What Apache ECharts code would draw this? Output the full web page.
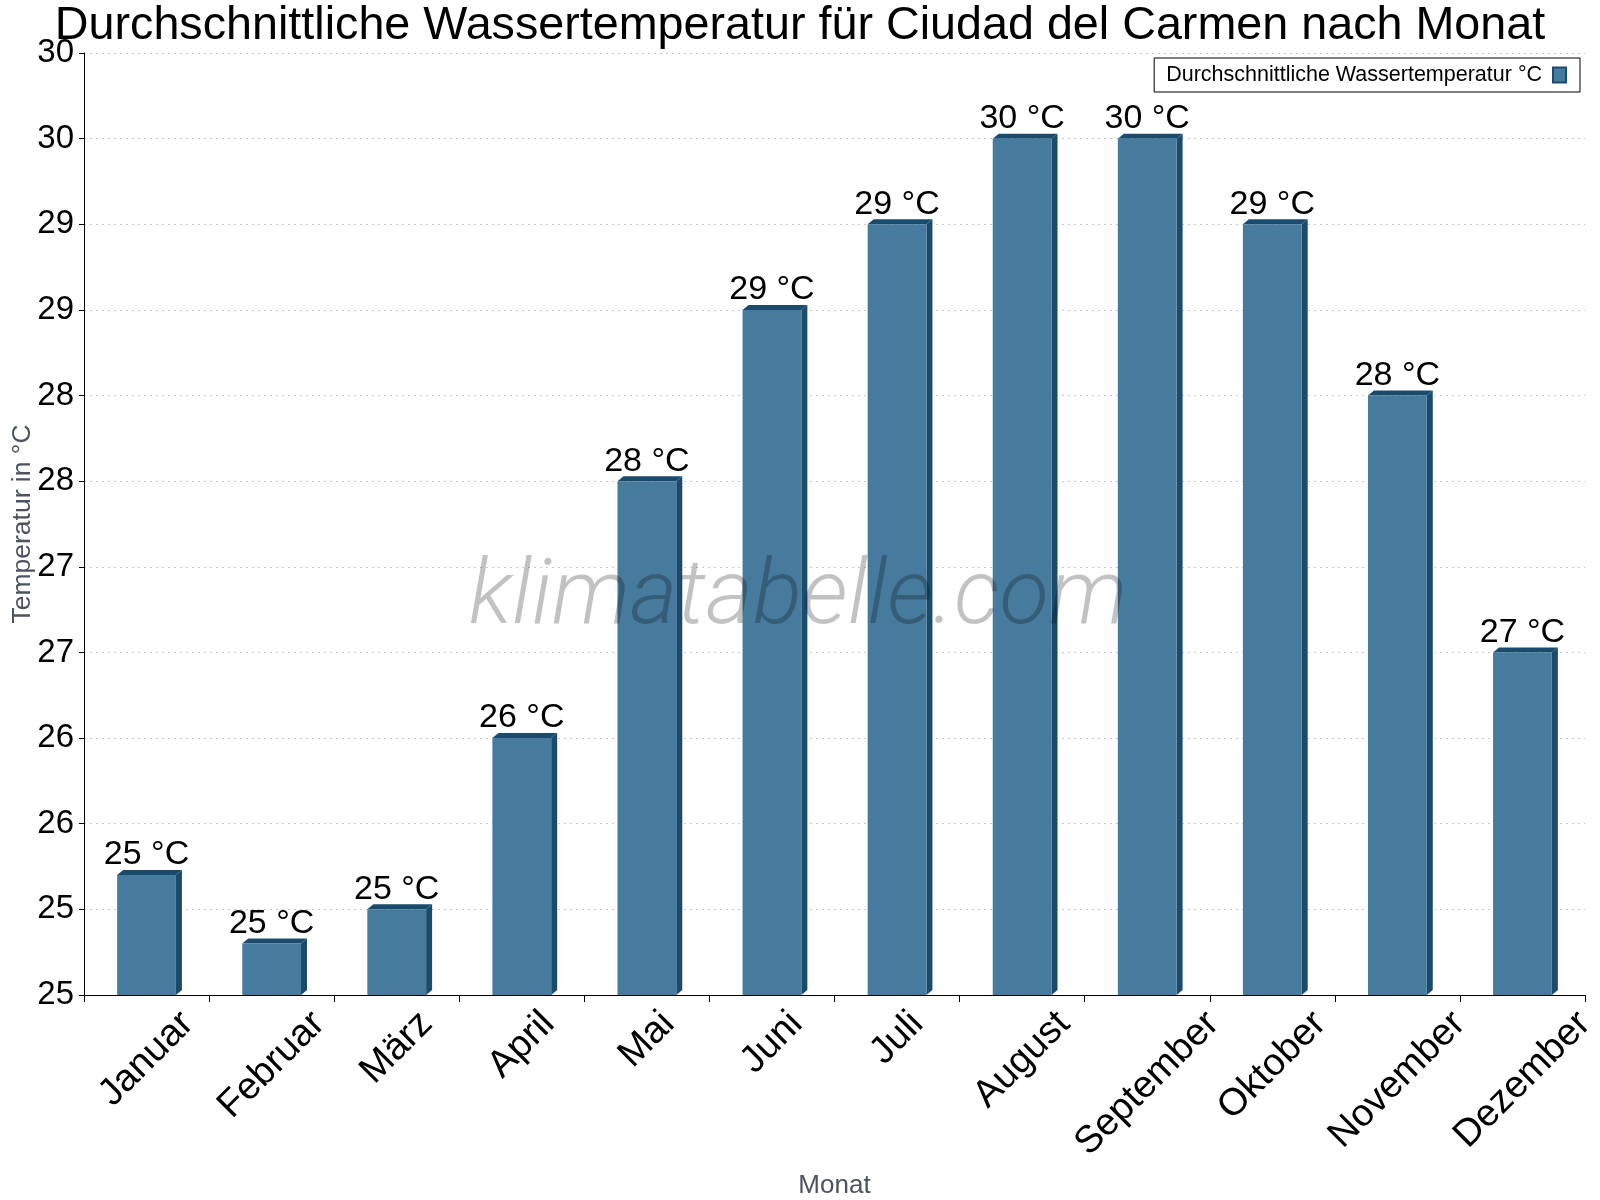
<!DOCTYPE html>
<html>
<head>
<meta charset="utf-8">
<script src="https://cdn.jsdelivr.net/npm/echarts@6/dist/echarts.min.js"></script>
<style>html,body{margin:0;padding:0;background:#fff;}#c{width:1600px;height:1200px;}</style>
</head>
<body>
<div id="c"></div>
<script>
const months = ['Januar','Februar','März','April','Mai','Juni','Juli','August','September','Oktober','November','Dezember'];
const waterTemp = [25.2, 24.8, 25.0, 26.0, 27.5, 28.5, 29.0, 29.5, 29.5, 29.0, 28.0, 26.5];
const Y_MIN = 24.5, Y_MAX = 30, Y_STEP = 0.5;
const seriesName = 'Durchschnittliche Wassertemperatur °C';
const titleText = 'Durchschnittliche Wassertemperatur für Ciudad del Carmen nach Monat';

const FRONT = '#467b9e', DARK = '#1a4b6d';
const FONT = '"Liberation Sans", Arial, sans-serif';
const XLAB_SIZE = 38;

// per-label padding so that each rotated label is centred on its category and top-aligned
const measureCtx = document.createElement('canvas').getContext('2d');
measureCtx.font = XLAB_SIZE + 'px ' + FONT;
const xRich = {};
months.forEach((m, i) => {
  const w = measureCtx.measureText(m).width;
  xRich['m' + i] = {fontSize: XLAB_SIZE, fontFamily: FONT, color: '#000', padding: [w / 2, w / 2, 0, 0]};
});

const chart = echarts.init(document.getElementById('c'), null, {renderer: 'canvas'});
chart.setOption({
  animation: false,
  backgroundColor: '#fff',
  title: {text: titleText, left: 'center', top: -2, textStyle: {fontSize: 46.7, fontWeight: 'normal', color: '#000', fontFamily: FONT}},
  legend: {
    right: 20, top: 58, icon: 'rect', align: 'right', itemWidth: 13, itemHeight: 15,
    padding: [6, 13, 6, 12], borderColor: '#000', borderWidth: 1, borderRadius: 0,
    textStyle: {fontSize: 21.5, color: '#000', fontFamily: FONT, padding: [0, 6, 0, 0]},
    data: [seriesName]
  },
  grid: {left: 84, right: 15, top: 53, bottom: 205, containLabel: false, outerBoundsMode: 'none'},
  xAxis: {
    type: 'category', data: months, boundaryGap: true,
    axisLine: {lineStyle: {color: '#000', width: 1}},
    axisTick: {show: true, length: 7, lineStyle: {color: '#000'}},
    axisLabel: {
      interval: 0, rotate: 45, align: 'center', verticalAlign: 'middle', margin: 23,
      fontSize: XLAB_SIZE, color: '#000', fontFamily: FONT,
      formatter: (value, idx) => '{m' + idx + '|' + value + '}',
      rich: xRich
    },
    name: 'Monat', nameLocation: 'middle', nameGap: 178, nameMoveOverlap: false,
    nameTextStyle: {fontSize: 26, color: '#4b545e', fontFamily: FONT}
  },
  yAxis: {
    type: 'value', min: Y_MIN, max: Y_MAX, interval: Y_STEP,
    axisLine: {show: true, lineStyle: {color: '#000', width: 1}},
    axisTick: {show: true, length: 5, inside: false, lineStyle: {color: '#000'}},
    axisLabel: {fontSize: 33, color: '#000', margin: 10, fontFamily: FONT, formatter: v => String(Math.round(v))},
    splitLine: {show: true, lineStyle: {color: '#c8c8c8', type: [2, 4], width: 1}},
    name: 'Temperatur in °C', nameLocation: 'middle', nameGap: 48, nameRotate: 90, nameMoveOverlap: false,
    nameTextStyle: {fontSize: 26.5, color: '#4b545e', fontFamily: FONT}
  },
  graphic: [{
    type: 'text', z: 100,
    x: 798, y: 600,
    style: {text: 'klimatabelle.com', x: 0, y: 0, fill: 'rgba(0,0,0,0.24)', font: 'italic 300 91px Roboto', align: 'center', verticalAlign: 'middle'}
  }],
  series: [{
    name: seriesName, type: 'custom',
    itemStyle: {color: FRONT, borderColor: DARK, borderWidth: 1},
    encode: {x: 0, y: 1},
    data: waterTemp.map((v, i) => [i, v]),
    renderItem: function (params, api) {
      const i = api.value(0), v = api.value(1);
      const top = api.coord([i, v]);
      const bot = api.coord([i, Y_MIN]);
      const w = api.size([1, 0])[0] * 0.47;
      const x0 = top[0] - w / 2, x1 = top[0] + w / 2;
      const dx = 6, dy = 5;
      return {type: 'group', children: [
        {type: 'polygon', shape: {points: [[x1, top[1]], [x1 + dx, top[1] - dy], [x1 + dx, bot[1] - dy], [x1, bot[1]]]}, style: {fill: DARK}},
        {type: 'polygon', shape: {points: [[x0, top[1]], [x0 + dx, top[1] - dy], [x1 + dx, top[1] - dy], [x1, top[1]]]}, style: {fill: DARK}},
        {type: 'rect', shape: {x: x0, y: top[1], width: w, height: bot[1] - top[1]}, style: {fill: FRONT}},
        {type: 'text', style: {text: Math.round(v) + ' °C', x: top[0], y: top[1] - 3, align: 'center', verticalAlign: 'bottom', fill: '#000', font: '34px ' + FONT}}
      ]};
    }
  }]
});
</script>
</body>
</html>
